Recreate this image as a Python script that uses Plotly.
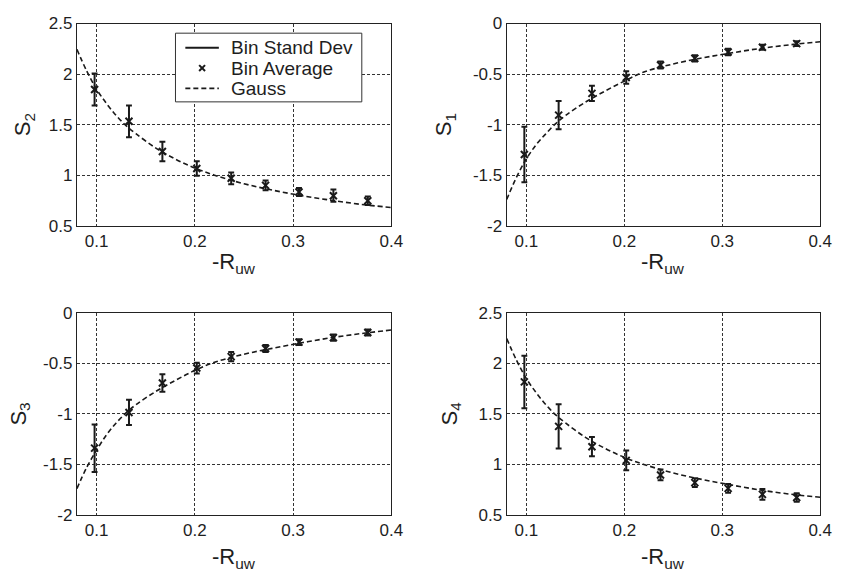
import plotly.graph_objects as go
from plotly.subplots import make_subplots

# Bin centres of -R_uw
bin_x = [0.098, 0.133, 0.167, 0.202, 0.237, 0.272, 0.306, 0.341, 0.376]

# Bin averages and bin standard deviations for each coefficient
s2_mean = [1.848, 1.533, 1.234, 1.066, 0.969, 0.899, 0.833, 0.797, 0.746]
s2_std = [0.158, 0.157, 0.096, 0.072, 0.058, 0.048, 0.040, 0.060, 0.042]

s1_mean = [-1.295, -0.906, -0.691, -0.534, -0.410, -0.345, -0.281, -0.235, -0.199]
s1_std = [0.275, 0.140, 0.075, 0.062, 0.035, 0.032, 0.032, 0.025, 0.024]

s3_mean = [-1.339, -0.986, -0.695, -0.547, -0.434, -0.354, -0.290, -0.246, -0.195]
s3_std = [0.235, 0.125, 0.086, 0.053, 0.045, 0.035, 0.029, 0.032, 0.029]

s4_mean = [1.816, 1.376, 1.175, 1.040, 0.896, 0.820, 0.763, 0.704, 0.672]
s4_std = [0.260, 0.219, 0.095, 0.098, 0.053, 0.043, 0.043, 0.054, 0.042]

# Gauss curves
gauss_x = [0.08, 0.09, 0.10, 0.11, 0.12, 0.13, 0.14, 0.16, 0.18, 0.20,
           0.22, 0.25, 0.28, 0.31, 0.34, 0.37, 0.40]
s2_gauss = [2.245, 2.03, 1.85, 1.71, 1.59, 1.49, 1.41, 1.27, 1.16, 1.07,
            1.00, 0.915, 0.85, 0.795, 0.75, 0.71, 0.68]
s1_gauss = [-1.74, -1.52, -1.34, -1.20, -1.09, -0.99, -0.91, -0.78, -0.67, -0.57,
            -0.48, -0.40, -0.34, -0.29, -0.245, -0.21, -0.18]
s3_gauss = [-1.74, -1.53, -1.36, -1.21, -1.09, -0.99, -0.91, -0.78, -0.67, -0.57,
            -0.49, -0.41, -0.35, -0.295, -0.245, -0.205, -0.17]
s4_gauss = [2.245, 2.03, 1.85, 1.71, 1.59, 1.49, 1.41, 1.27, 1.16, 1.07,
            1.00, 0.915, 0.85, 0.795, 0.745, 0.705, 0.675]

# Tick labels
x_ticks = [0.1, 0.2, 0.3, 0.4]
x_ticktext = ["0.1", "0.2", "0.3", "0.4"]
pos_ticks = [0.5, 1, 1.5, 2, 2.5]
pos_ticktext = ["0.5", "1", "1.5", "2", "2.5"]
neg_ticks = [-2, -1.5, -1, -0.5, 0]
neg_ticktext = ["-2", "-1.5", "-1", "-0.5", "0"]

# Legend entries
legend_labels = ["Bin Stand Dev", "Bin Average", "Gauss"]

FONT = "Liberation Sans, Arial, Helvetica, sans-serif"
INK = "#1a1a1a"
TXT = "#1e1e1e"
CAP = 0.003  # half-width of the error bar caps, in x units

W, H = 847, 583
x_dom = [[78 / W, 397 / W], [514 / W, 832 / W]]
y_dom = [[1 - 224 / H, 1 - 15 / H], [1 - 523 / H, 1 - 314 / H]]


def px(x):
    return x / W


def py(y):
    return 1 - y / H


def bar_segments(xs, means, stds):
    ex, ey = [], []
    for x, m, s in zip(xs, means, stds):
        lo, hi = m - s, m + s
        ex += [x, x, None, x - CAP, x + CAP, None, x - CAP, x + CAP, None]
        ey += [lo, hi, None, lo, lo, None, hi, hi, None]
    return ex, ey


panels = [
    # name, mean, std, gauss, row, col, ticks, ticktext
    ("S<sub>2</sub>", s2_mean, s2_std, s2_gauss, 1, 1, pos_ticks, pos_ticktext),
    ("S<sub>1</sub>", s1_mean, s1_std, s1_gauss, 1, 2, neg_ticks, neg_ticktext),
    ("S<sub>3</sub>", s3_mean, s3_std, s3_gauss, 2, 1, neg_ticks, neg_ticktext),
    ("S<sub>4</sub>", s4_mean, s4_std, s4_gauss, 2, 2, pos_ticks, pos_ticktext),
]

fig = make_subplots(rows=2, cols=2)

for name, mean, std, gauss, r, c, yt, ytt in panels:
    ex, ey = bar_segments(bin_x, mean, std)
    fig.add_trace(go.Scatter(
        x=ex, y=ey, mode="lines", name=legend_labels[0],
        line=dict(color=INK, width=2), showlegend=False,
    ), row=r, col=c)
    fig.add_trace(go.Scatter(
        x=bin_x, y=mean, mode="markers", name=legend_labels[1],
        marker=dict(symbol="x-thin", size=7, line=dict(color=INK, width=2)),
        showlegend=False,
    ), row=r, col=c)
    fig.add_trace(go.Scatter(
        x=gauss_x, y=gauss, mode="lines", name=legend_labels[2], line_shape="spline",
        line=dict(color=INK, width=1.6, dash="5px,3px"), showlegend=False,
    ), row=r, col=c)

    axis_common = dict(
        showline=True, mirror=True, linecolor="#222", linewidth=1.2,
        showgrid=True, gridcolor="#333", gridwidth=1, griddash="3px,2px",
        zeroline=False, ticks="",
        tickfont=dict(family=FONT, size=17, color=TXT),
    )
    fig.update_xaxes(range=[0.08, 0.4], tickvals=x_ticks, ticktext=x_ticktext,
                     domain=x_dom[c - 1], **axis_common, row=r, col=c)
    fig.update_yaxes(range=[yt[0], yt[-1]], tickvals=yt, ticktext=ytt,
                     domain=y_dom[r - 1], **axis_common, row=r, col=c)

# Axis titles
title_font = dict(family=FONT, size=22, color=TXT)
annotations = []
shapes = []
x_title_y = [py(263), py(567)]
y_title_x = {(1, 1): px(24), (1, 2): px(451), (2, 1): px(20), (2, 2): px(457)}
for name, _, _, _, r, c, _, _ in panels:
    dx = x_dom[c - 1]
    dy = y_dom[r - 1]
    annotations.append(dict(
        text="-R<sub>uw</sub>", xref="paper", yref="paper",
        x=(dx[0] + dx[1]) / 2, y=x_title_y[r - 1],
        xanchor="center", yanchor="middle", showarrow=False, font=title_font,
    ))
    annotations.append(dict(
        text=name, xref="paper", yref="paper",
        x=y_title_x[(r, c)], y=(dy[0] + dy[1]) / 2, textangle=-90,
        xanchor="center", yanchor="middle", showarrow=False, font=title_font,
    ))

# Legend box in the upper-left panel
box_l, box_t, box_r, box_b = 178, 25, 367, 96
row_y = [40, 61, 82]
samp_l, samp_r, text_x = 188, 222, 232
shapes.append(dict(type="rect", xref="paper", yref="paper",
                   x0=px(box_l), x1=px(box_r), y0=py(box_b), y1=py(box_t),
                   line=dict(color="#333", width=1), fillcolor="white", layer="above"))
shapes.append(dict(type="line", xref="paper", yref="paper",
                   x0=px(samp_l), x1=px(samp_r), y0=py(row_y[0]), y1=py(row_y[0]),
                   line=dict(color=INK, width=2), layer="above"))
mx, my, mh = (samp_l + samp_r) / 2, row_y[1], 3
for s in (1, -1):
    shapes.append(dict(type="line", xref="paper", yref="paper",
                       x0=px(mx - mh), x1=px(mx + mh),
                       y0=py(my - s * mh), y1=py(my + s * mh),
                       line=dict(color=INK, width=2), layer="above"))
shapes.append(dict(type="line", xref="paper", yref="paper",
                   x0=px(samp_l), x1=px(samp_r), y0=py(row_y[2]), y1=py(row_y[2]),
                   line=dict(color=INK, width=1.6, dash="5px,3px"), layer="above"))
for label, yy in zip(legend_labels, row_y):
    annotations.append(dict(
        text=label, xref="paper", yref="paper", x=px(text_x), y=py(yy),
        xanchor="left", yanchor="middle", showarrow=False,
        font=dict(family=FONT, size=19, color=TXT),
    ))

fig.update_layout(
    width=W, height=H,
    margin=dict(l=0, r=0, t=0, b=0),
    paper_bgcolor="white", plot_bgcolor="white",
    font=dict(family=FONT, color=TXT),
    annotations=annotations,
    shapes=shapes,
    showlegend=False,
)

fig.write_html("out.html")
